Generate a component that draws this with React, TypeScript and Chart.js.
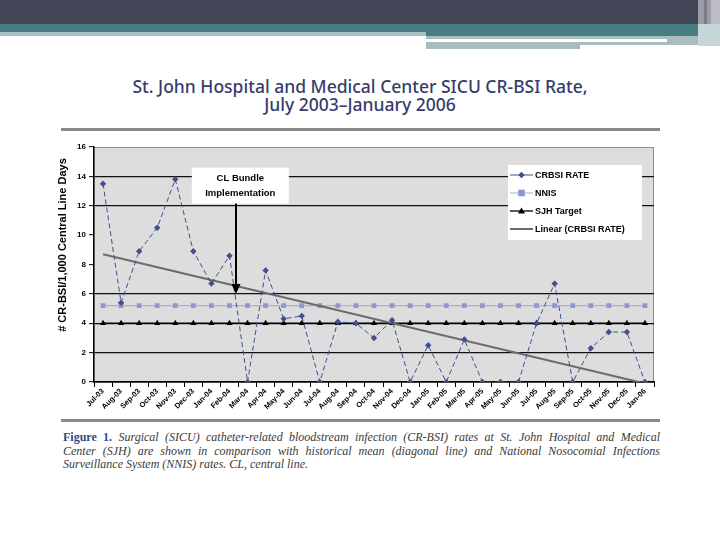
import React, { useEffect, useRef } from "react";
import { Chart, registerables } from "chart.js";

Chart.register(...registerables);

const months = [
  "Jul-03", "Aug-03", "Sep-03", "Oct-03", "Nov-03", "Dec-03",
  "Jan-04", "Feb-04", "Mar-04", "Apr-04", "May-04", "Jun-04",
  "Jul-04", "Aug-04", "Sep-04", "Oct-04", "Nov-04", "Dec-04",
  "Jan-05", "Feb-05", "Mar-05", "Apr-05", "May-05", "Jun-05",
  "Jul-05", "Aug-05", "Sep-05", "Oct-05", "Nov-05", "Dec-05", "Jan-06",
];

const crbsiRate = [
  13.5, 5.4, 8.9, 10.5, 13.8, 8.9,
  6.7, 8.6, 0, 7.6, 4.3, 4.5,
  0, 4.1, 4.0, 3.0, 4.2, 0,
  2.5, 0, 2.9, 0, 0, 0,
  4.0, 6.7, 0, 2.3, 3.4, 3.4, 0,
];

const nnis = [
  5.2, 5.2, 5.2, 5.2, 5.2, 5.2,
  5.2, 5.2, 5.2, 5.2, 5.2, 5.2,
  5.2, 5.2, 5.2, 5.2, 5.2, 5.2,
  5.2, 5.2, 5.2, 5.2, 5.2, 5.2,
  5.2, 5.2, 5.2, 5.2, 5.2, 5.2, 5.2,
];

const sjhTarget = [
  4, 4, 4, 4, 4, 4,
  4, 4, 4, 4, 4, 4,
  4, 4, 4, 4, 4, 4,
  4, 4, 4, 4, 4, 4,
  4, 4, 4, 4, 4, 4, 4,
];

// Linear trend read at its two ends (first and last month)
const linearTrend = [
  8.7, null, null, null, null, null,
  null, null, null, null, null, null,
  null, null, null, null, null, null,
  null, null, null, null, null, null,
  null, null, null, null, null, null, -0.1,
];

const yTicksWithGrid = [2, 4, 6, 12, 14];

const seriesNames = ["CRBSI RATE", "NNIS", "SJH Target", "Linear (CRBSI RATE)"];
const yAxisTitle = "# CR-BSI/1,000 Central Line Days";
const annotationLines = ["CL Bundle", "Implementation"];

const FONT = "'Liberation Sans', Arial, sans-serif";

const decorPlugin = {
  id: "decor",
  beforeDraw(chart: any) {
    const { ctx, chartArea: a } = chart;
    ctx.save();
    ctx.fillStyle = "#dddddd";
    ctx.fillRect(a.left, a.top, a.right - a.left, a.bottom - a.top);
    ctx.strokeStyle = "#8c8c8c";
    ctx.lineWidth = 1;
    ctx.strokeRect(a.left, a.top + 0.5, a.right - a.left - 0.5, a.bottom - a.top);
    ctx.restore();
  },
  afterDraw(chart: any) {
    const { ctx, chartArea: a, scales } = chart;
    const xs = scales.x;
    const ys = scales.y;
    ctx.save();

    // y-axis title
    ctx.translate(a.left - 31, a.top + 98);
    ctx.rotate(-Math.PI / 2);
    ctx.fillStyle = "#000";
    ctx.font = `bold 11px ${FONT}`;
    ctx.textAlign = "center";
    ctx.textBaseline = "middle";
    ctx.fillText(yAxisTitle, 0, 0);
    ctx.restore();

    // annotation
    ctx.save();
    const step = xs.getPixelForValue(8) - xs.getPixelForValue(7);
    const arrowX = xs.getPixelForValue(7) + 0.36 * step;
    const boxCx = xs.getPixelForValue(7) + 0.6 * step;
    const boxTop = ys.getPixelForValue(14.6);
    const boxBottom = ys.getPixelForValue(12.15);
    const boxW = 97;
    ctx.fillStyle = "#ffffff";
    ctx.fillRect(boxCx - boxW / 2, boxTop, boxW, boxBottom - boxTop);
    ctx.fillStyle = "#000";
    ctx.font = `bold 9.5px ${FONT}`;
    ctx.textAlign = "center";
    ctx.textBaseline = "middle";
    ctx.fillText(annotationLines[0], boxCx, boxTop + 11);
    ctx.fillText(annotationLines[1], boxCx, boxTop + 26);
    const tipY = ys.getPixelForValue(6.0);
    ctx.strokeStyle = "#000";
    ctx.lineWidth = 2;
    ctx.beginPath();
    ctx.moveTo(arrowX, boxBottom);
    ctx.lineTo(arrowX, tipY - 8);
    ctx.stroke();
    ctx.beginPath();
    ctx.moveTo(arrowX - 4.5, tipY - 10);
    ctx.lineTo(arrowX + 4.5, tipY - 10);
    ctx.lineTo(arrowX, tipY);
    ctx.closePath();
    ctx.fill();
    ctx.restore();

    // legend
    ctx.save();
    const lx = a.right - 146;
    const ly = a.top + 18;
    ctx.fillStyle = "#ffffff";
    ctx.fillRect(lx, ly, 134, 75);
    const rows = [10, 28, 46, 64];
    chart.data.datasets.forEach((ds: any, i: number) => {
      const cy = ly + rows[i];
      ctx.strokeStyle = ds.borderColor;
      ctx.lineWidth = i === 3 ? 2 : i === 2 ? 1.3 : 1;
      ctx.beginPath();
      ctx.moveTo(lx + 2, cy);
      ctx.lineTo(lx + 25, cy);
      ctx.stroke();
      const mx = lx + 13.5;
      ctx.fillStyle = ds.pointBackgroundColor || ds.backgroundColor;
      if (i === 0) {
        ctx.beginPath();
        ctx.moveTo(mx, cy - 3.2);
        ctx.lineTo(mx + 3.2, cy);
        ctx.lineTo(mx, cy + 3.2);
        ctx.lineTo(mx - 3.2, cy);
        ctx.closePath();
        ctx.fill();
      } else if (i === 1) {
        ctx.fillRect(mx - 3.3, cy - 3.3, 6.6, 6.6);
      } else if (i === 2) {
        ctx.beginPath();
        ctx.moveTo(mx, cy - 3.5);
        ctx.lineTo(mx + 3.5, cy + 2.5);
        ctx.lineTo(mx - 3.5, cy + 2.5);
        ctx.closePath();
        ctx.fill();
      }
      ctx.fillStyle = "#000";
      ctx.font = `bold 9px ${FONT}`;
      ctx.textAlign = "left";
      ctx.textBaseline = "middle";
      ctx.fillText(seriesNames[i], lx + 27, cy + 0.5);
    });
    ctx.restore();
  },
};

function ChartCanvas() {
  const ref = useRef<HTMLCanvasElement | null>(null);
  useEffect(() => {
    if (!ref.current) return;
    const chart = new Chart(ref.current, {
      type: "line",
      data: {
        labels: months,
        datasets: [
          {
            label: seriesNames[0],
            data: crbsiRate,
            borderColor: "#3f4f92",
            backgroundColor: "#3f4f92",
            pointBackgroundColor: "#3f4f92",
            pointBorderColor: "#3f4f92",
            borderWidth: 1,
            borderDash: [5, 3],
            pointStyle: "rectRot",
            pointRadius: 3.2,
            pointBorderWidth: 0,
            tension: 0,
            order: 0,
          },
          {
            label: seriesNames[1],
            data: nnis,
            borderColor: "#a9aed8",
            backgroundColor: "#8f97cd",
            pointBackgroundColor: "#8f97cd",
            pointBorderColor: "#8f97cd",
            borderWidth: 1.2,
            pointStyle: "rect",
            pointRadius: 3.4,
            pointBorderWidth: 0,
            order: 3,
          },
          {
            label: seriesNames[2],
            data: sjhTarget,
            borderColor: "#000000",
            backgroundColor: "#000000",
            pointBackgroundColor: "#000000",
            pointBorderColor: "#000000",
            borderWidth: 1.5,
            pointStyle: "triangle",
            pointRadius: 3.6,
            pointBorderWidth: 0,
            order: 2,
          },
          {
            label: seriesNames[3],
            data: linearTrend,
            borderColor: "#6b6b6b",
            backgroundColor: "#6b6b6b",
            borderWidth: 2,
            pointRadius: 0,
            spanGaps: true,
            order: 1,
          },
        ],
      },
      options: {
        responsive: false,
        animation: false,
        events: [],
        layout: { padding: { left: 40, top: 147, right: 66, bottom: 122 } },
        plugins: {
          legend: { display: false },
          tooltip: { enabled: false },
          title: { display: false },
        },
        scales: {
          x: {
            type: "category",
            offset: true,
            afterFit: (s: any) => {
              s.height = 36;
            },
            grid: {
              offset: true,
              drawOnChartArea: false,
              drawTicks: true,
              tickLength: 5,
              tickColor: "#000",
              tickWidth: 1,
            },
            border: { color: "#000", width: 1.5 },
            ticks: {
              autoSkip: false,
              minRotation: 45,
              maxRotation: 45,
              padding: 0,
              color: "#000",
              font: { family: FONT, size: 7.5, weight: "bold" },
            },
          },
          y: {
            min: 0,
            max: 16,
            afterFit: (s: any) => {
              s.width = 54;
            },
            grid: {
              color: (c: any) =>
                yTicksWithGrid.includes(c.tick && c.tick.value) ? "#111111" : "rgba(0,0,0,0)",
              lineWidth: 1.3,
              tickLength: 5,
              tickColor: "#000",
              tickWidth: 1,
            },
            border: { color: "#000", width: 1.5 },
            ticks: {
              stepSize: 2,
              padding: 3,
              color: "#000",
              font: { family: FONT, size: 8, weight: "bold" },
            },
          },
        },
      },
      plugins: [decorPlugin],
    } as any);
    return () => chart.destroy();
  }, []);
  return (
    <canvas
      ref={ref}
      width={720}
      height={540}
      style={{ position: "absolute", left: 0, top: 0, width: 720, height: 540, zIndex: 2 }}
    />
  );
}

export default function App() {
  const abs = (l: number, t: number, w: number, h: number, bg: string): React.CSSProperties => ({
    position: "absolute",
    left: l,
    top: t,
    width: w,
    height: h,
    background: bg,
  });
  const captionLine: React.CSSProperties = {
    textAlign: "justify",
    textAlignLast: "justify" as any,
    whiteSpace: "nowrap",
    height: 13.5,
  };
  return (
    <div style={{ position: "absolute", left: 0, top: 0, width: 720, height: 540, background: "#fff", overflow: "hidden" }}>
      {/* header decoration */}
      <div style={abs(0, 0, 720, 24, "#434456")} />
      <div style={abs(0, 24, 698, 8, "#477e83")} />
      <div style={abs(426, 32, 272, 4, "#477e83")} />
      <div style={abs(0, 32, 426, 4, "#a6c0c2")} />
      <div style={abs(426, 36, 241, 3, "#a9bdbf")} />
      <div style={abs(667, 36, 31, 9, "#a9bdbf")} />
      <div style={abs(426, 42, 154, 7, "#a9bdbf")} />
      <div style={abs(580, 42, 128, 3, "#a9bdbf")} />
      <div style={abs(698, 0, 22, 24, "#9d9daa")} />
      <div style={abs(704, 0, 3, 46, "#7c7c8a")} />
      <div style={abs(711, 0, 9, 24, "#bdbdc6")} />
      <div style={abs(698, 24, 22, 22, "#c5d6d6")} />

      {/* title */}
      <div
        style={{
          position: "absolute",
          left: 0,
          top: 77,
          width: 720,
          textAlign: "center",
          fontFamily: "'Noto Sans', sans-serif",
          fontSize: 17.5,
          fontWeight: 500,
          lineHeight: "18px",
          color: "#343d6b",
        }}
      >
        St. John Hospital and Medical Center SICU CR-BSI Rate,
        <br />
        July 2003–January 2006
      </div>

      {/* rules */}
      <div style={abs(61, 128, 599, 3, "#8a8a8a")} />
      <div style={abs(61, 419, 599, 3, "#8a8a8a")} />

      {/* caption */}
      <div
        style={{
          position: "absolute",
          left: 63,
          top: 431,
          width: 597,
          fontFamily: "'Liberation Serif', 'Times New Roman', serif",
          fontStyle: "italic",
          fontSize: 12,
          lineHeight: "13.5px",
          color: "#3a3a3a",
        }}
      >
        <div style={captionLine}>
          <span style={{ fontStyle: "normal", fontWeight: "bold", color: "#2e4a8c" }}>Figure 1.</span> Surgical (SICU)
          catheter-related bloodstream infection (CR-BSI) rates at St. John Hospital and Medical
        </div>
        <div style={captionLine}>
          Center (SJH) are shown in comparison with historical mean (diagonal line) and National Nosocomial Infections
        </div>
        <div style={{ ...captionLine, textAlignLast: "left" as any }}>
          Surveillance System (NNIS) rates. CL, central line.
        </div>
      </div>

      <ChartCanvas />
    </div>
  );
}
